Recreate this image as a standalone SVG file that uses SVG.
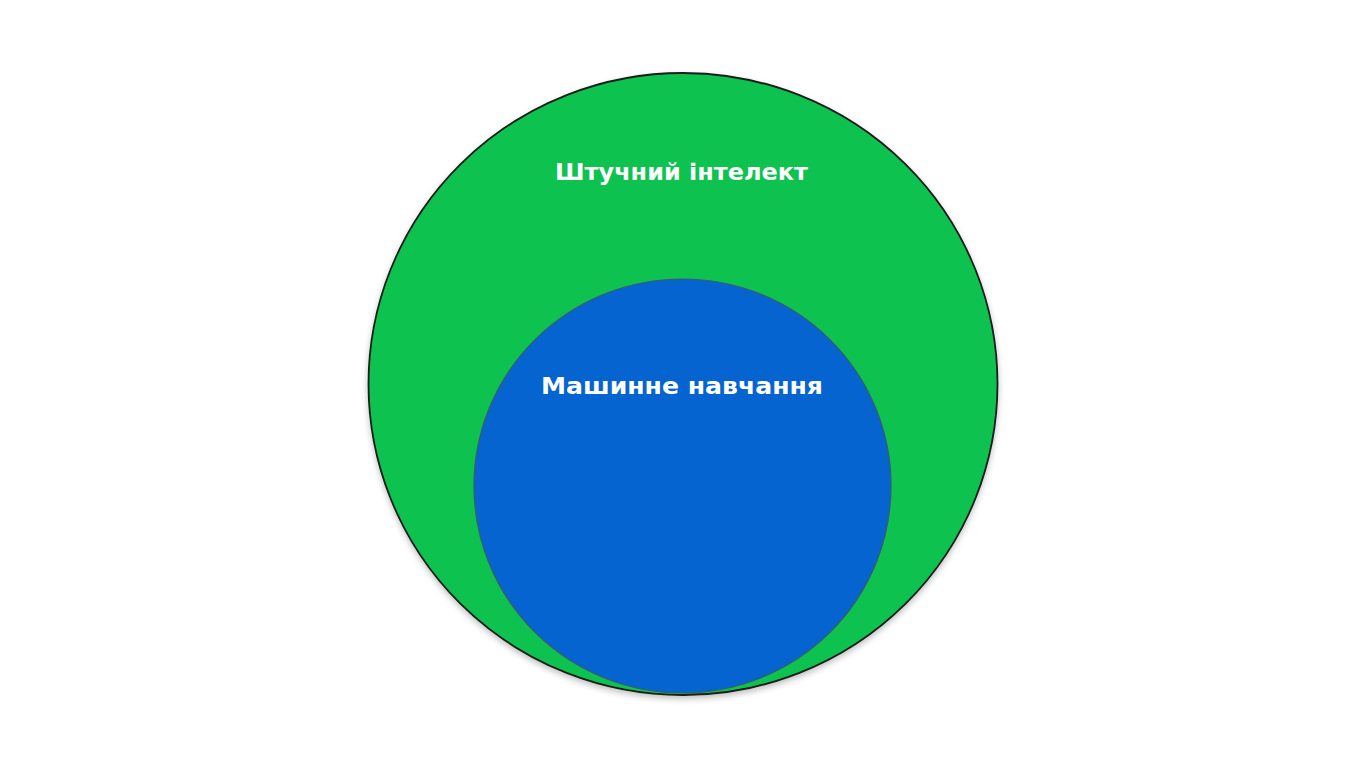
<svg xmlns="http://www.w3.org/2000/svg" width="1365" height="768" viewBox="0 0 1365 768">
<style>
.lbl{font-family:"DejaVu Sans","Liberation Sans",sans-serif;font-weight:700;fill:#ffffff;text-anchor:middle}
</style>
<defs>
<filter id="sh" x="-10%" y="-10%" width="120%" height="125%">
<feGaussianBlur in="SourceAlpha" stdDeviation="3"/>
<feOffset dy="3"/>
<feComponentTransfer><feFuncA type="linear" slope="0.25"/></feComponentTransfer>
<feMerge><feMergeNode/><feMergeNode in="SourceGraphic"/></feMerge>
</filter>
</defs>
<rect width="1365" height="768" fill="#ffffff"/>
<g id="ai">
<ellipse cx="683" cy="384" rx="314.5" ry="311" fill="#0cc24f" stroke="#1a1a1a" stroke-width="1.8" filter="url(#sh)"/>
<text class="lbl" x="681.5" y="180" font-size="23" textLength="253" lengthAdjust="spacingAndGlyphs">Штучний інтелект</text>
</g>
<g id="ml">
<ellipse cx="682.5" cy="486" rx="208.5" ry="207" fill="#0564cf" stroke="#3d5a6e" stroke-width="1.2"/>
<text class="lbl" x="682" y="394" font-size="23" textLength="282" lengthAdjust="spacingAndGlyphs">Машинне навчання</text>
</g>
<g id="connectors"/>
</svg>
